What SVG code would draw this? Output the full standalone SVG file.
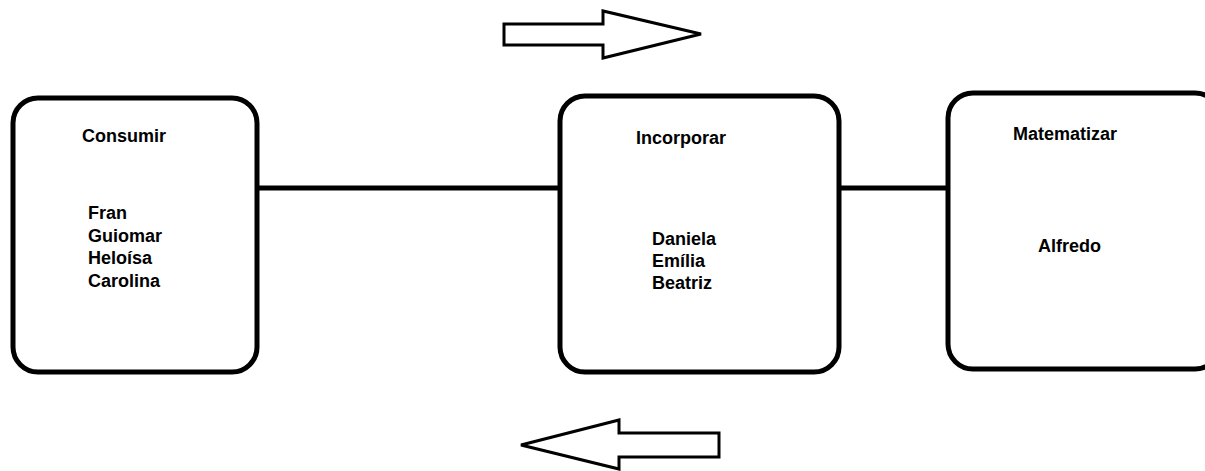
<svg xmlns="http://www.w3.org/2000/svg" width="1205" height="471" viewBox="0 0 1205 471">
<style>
.box{fill:#fff;stroke:#000;stroke-width:5}
.con{stroke:#000;stroke-width:5;fill:none}
.arr{fill:#fff;stroke:#000;stroke-width:3;stroke-linejoin:miter}
text{font-family:"Liberation Sans",Arial,sans-serif;font-weight:bold;font-size:18px;fill:#000}
</style>
<rect width="1205" height="471" fill="#fff"/>
<g id="connectors">
<line class="con" x1="257" y1="188" x2="560" y2="188"/>
<line class="con" x1="839" y1="188" x2="948" y2="188"/>
</g>
<g id="consumir">
<rect class="box" x="13" y="98" width="244" height="274" rx="25"/>
<text x="82" y="142">Consumir</text>
<text x="88" y="219">Fran</text>
<text x="88" y="242">Guiomar</text>
<text x="88" y="264">Heloísa</text>
<text x="88" y="287">Carolina</text>
</g>
<g id="incorporar">
<rect class="box" x="560" y="96" width="279" height="276" rx="25"/>
<text x="636" y="144">Incorporar</text>
<text x="652" y="245">Daniela</text>
<text x="652" y="267">Emília</text>
<text x="652" y="289">Beatriz</text>
</g>
<g id="matematizar">
<rect class="box" x="948" y="93" width="272" height="276" rx="25"/>
<text x="1013" y="140">Matematizar</text>
<text x="1038" y="252">Alfredo</text>
</g>
<g id="arrow-right">
<polygon class="arr" points="504,24 603,24 603,11 701,34 603,58 603,45 504,45"/>
</g>
<g id="arrow-left">
<polygon class="arr" points="521,445 619,420 619,433 719,433 719,457 619,457 619,469"/>
</g>
</svg>
